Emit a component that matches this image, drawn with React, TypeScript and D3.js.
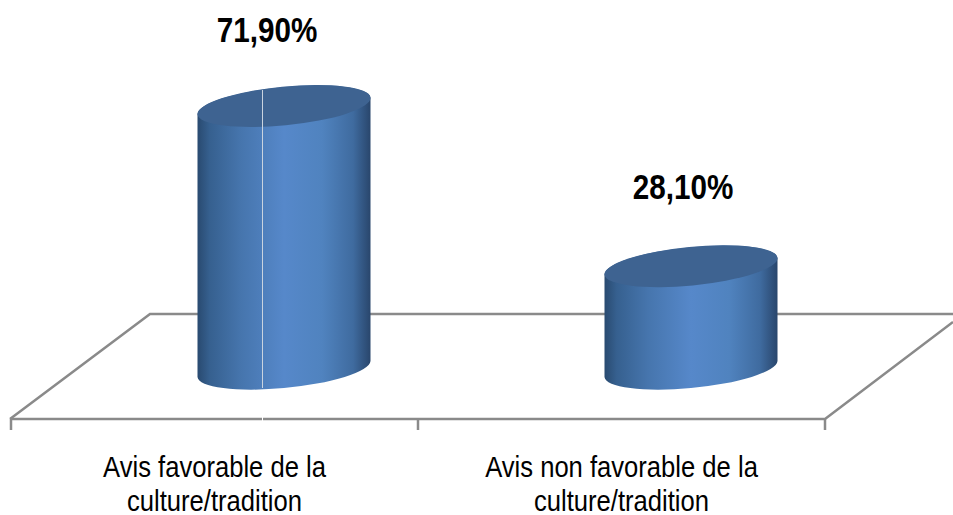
import React from "react";
import * as d3 from "d3";

const categories = ["Avis favorable de la|culture/tradition", "Avis non favorable de la|culture/tradition"];
const values = [71.9, 28.1];
const valueLabels = ["71,90%", "28,10%"];

const W = 953, H = 515;
const FRONT_Y = 419, BACK_Y = 314, LEFT = 11, RIGHT = 825, DEPTH = 70;
const FONT = "'Liberation Sans', Arial, sans-serif";
const LABEL_SHIFT_X = [-17, -8];
const LABEL_SHIFT_Y = [-76, -80];

const x = d3.scaleBand<string>().domain(categories).range([LEFT, RIGHT]).padding(0);
const y = d3.scaleLinear().domain([0, 71.9]).range([369, 106]);
const RX = 86.9, RY = 19.3, ROT = -5.56, HALF_W = 86.5, OFF_Y = 8;

export default function App() {
  const ticks = [LEFT, x(categories[1])!, RIGHT];
  return (
    <svg width={W} height={H} style={{ position: "absolute", left: 0, top: 0, background: "#fff" }}>
      <defs>
        <linearGradient id="body" x1="0" x2="1" y1="0" y2="0">
          <stop offset="0" stopColor="#294a70" />
          <stop offset="0.07" stopColor="#36608f" />
          <stop offset="0.25" stopColor="#4675ad" />
          <stop offset="0.5" stopColor="#5688ca" />
          <stop offset="0.72" stopColor="#5083bf" />
          <stop offset="0.9" stopColor="#3f6b9f" />
          <stop offset="1" stopColor="#29466c" />
        </linearGradient>
      </defs>
      <g fill="none" stroke="#8a8a8a" strokeWidth={2.5}>
        <path d={`M${LEFT - 1},${FRONT_Y}L150,${BACK_Y}H953`} />
        <path d={`M${LEFT - 1},${FRONT_Y}H${RIGHT}L953,322`} />
        {ticks.map((t) => (
          <line key={t} x1={t} x2={t} y1={FRONT_Y} y2={430} />
        ))}
      </g>
      {categories.map((c, i) => {
        const cx = x(c)! + x.bandwidth() / 2 + DEPTH - 0.5;
        const top = y(values[i]);
        const base = y(0);
        const arc = `A${RX},${RY} ${ROT} 0 0`;
        const body =
          `M${cx - HALF_W},${top + OFF_Y}V${base + OFF_Y}` +
          `${arc} ${cx + HALF_W},${base - OFF_Y}V${top - OFF_Y}` +
          `${arc} ${cx - HALF_W},${top + OFF_Y}Z`;
        const catX = x(c)! + x.bandwidth() / 2;
        return (
          <g key={c}>
            <path d={body} fill="url(#body)" />
            <ellipse cx={cx} cy={top} rx={RX} ry={RY} fill="#3e6391" transform={`rotate(${ROT} ${cx} ${top})`} />
            <text
              transform={`translate(${cx + LABEL_SHIFT_X[i]},${top + LABEL_SHIFT_Y[i]}) scale(0.86,1)`}
              dy="0.36em"
              textAnchor="middle"
              fontFamily={FONT}
              fontWeight="bold"
              fontSize={34.5}
              fill="#000"
            >
              {valueLabels[i]}
            </text>
            <text transform={`translate(${catX},0) scale(0.883,1)`} textAnchor="middle" fontFamily={FONT} fontSize={29} fill="#000">
              {c.split("|").map((line, j) => (
                <tspan key={j} x={0} y={477 + j * 34}>{line}</tspan>
              ))}
            </text>
          </g>
        );
      })}
      <line x1={262.5} x2={262.5} y1={90} y2={388} stroke="#c9d3df" strokeWidth={1} />
      <line x1={262.5} x2={262.5} y1={417} y2={421} stroke="#fff" strokeWidth={1} />
    </svg>
  );
}
